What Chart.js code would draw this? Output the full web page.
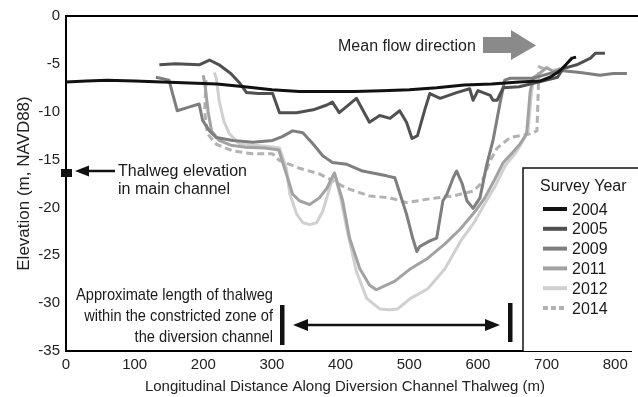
<!DOCTYPE html>
<html>
<head>
<meta charset="utf-8">
<script src="https://cdn.jsdelivr.net/npm/chart.js@4.4.1/dist/chart.umd.min.js"></script>
<style>
html,body{margin:0;padding:0;background:#fff;}
canvas{display:block;}
</style>
</head>
<body>
<canvas id="c" width="638" height="397"></canvas>
<script>
// ---- Data ----
const years = ['2004', '2005', '2009', '2011', '2012', '2014'];

const x2004 = [0, 30, 60, 100, 140, 180, 220, 260, 300, 340, 380, 420, 460, 500, 540, 580, 620, 660, 690, 705, 718, 728, 737, 743];
const y2004 = [-6.9, -6.8, -6.7, -6.8, -6.9, -7.0, -7.1, -7.4, -7.7, -7.9, -7.9, -7.9, -7.8, -7.7, -7.5, -7.2, -7.1, -6.9, -6.8, -6.4, -5.8, -5.1, -4.4, -4.3];

const x2005 = [136, 160, 194, 209, 223, 240, 253, 263, 280, 301, 311, 336, 360, 380, 388, 398, 413, 423, 442, 457, 472, 486, 496, 504, 512, 523, 530, 545, 569, 588, 593, 600, 618, 622, 628, 637, 660, 700, 716, 724, 744, 764, 771, 785];
const y2005 = [-5.1, -5.0, -5.1, -4.6, -5.1, -6.0, -7.0, -8.0, -8.1, -8.1, -10.1, -10.1, -9.8, -9.3, -9.0, -10.1, -9.2, -8.6, -11.1, -10.4, -10.7, -9.9, -11.1, -12.8, -12.5, -9.7, -8.1, -8.6, -8.0, -7.6, -8.8, -7.8, -8.3, -8.8, -8.8, -7.5, -7.4, -6.7, -6.4, -5.5, -5.1, -4.4, -3.9, -3.9];

const x2009 = [131, 150, 162, 180, 194, 199, 209, 219, 243, 272, 301, 315, 330, 345, 359, 374, 380, 388, 409, 432, 467, 479, 496, 505, 511, 515, 530, 540, 549, 555, 564, 569, 577, 584, 593, 603, 613, 622, 632, 639, 647, 680, 695, 720, 749, 778, 797, 817];
const y2009 = [-6.4, -6.7, -9.9, -9.5, -9.2, -10.9, -12.0, -12.7, -13.0, -13.2, -13.0, -12.6, -12.0, -12.2, -13.3, -14.6, -14.9, -15.3, -15.5, -16.2, -16.7, -16.9, -20.7, -23.2, -24.6, -24.1, -23.5, -23.2, -19.3, -18.6, -16.9, -16.2, -17.5, -19.3, -20.1, -19.0, -15.5, -13.0, -9.2, -6.7, -6.5, -6.5, -6.2, -5.7, -5.9, -6.2, -6.0, -6.0];

const x2011 = [200, 203, 207, 212, 223, 240, 260, 290, 310, 321, 330, 340, 355, 369, 380, 391, 403, 413, 428, 442, 452, 479, 502, 527, 552, 575, 596, 610, 625, 637, 650, 661, 671, 676, 680, 690, 700, 710, 720];
const y2011 = [-6.2, -7.5, -10.0, -12.0, -13.0, -13.5, -13.7, -13.8, -14.0, -16.5, -18.6, -19.3, -19.7, -19.0, -18.0, -16.4, -19.3, -23.2, -26.4, -28.1, -28.6, -27.7, -26.4, -25.3, -23.8, -22.2, -20.4, -19.0, -17.0, -15.3, -14.3, -13.4, -12.3, -8.0, -6.5, -6.0, -5.4, -5.8, -5.5];

const x2012 = [216, 219, 223, 230, 238, 253, 270, 292, 311, 316, 321, 326, 336, 345, 355, 365, 374, 384, 391, 400, 409, 423, 438, 457, 471, 483, 502, 527, 552, 575, 596, 610, 625, 640, 655, 666, 673, 678, 681, 690, 700, 708, 720];
const y2012 = [-5.9, -6.5, -8.8, -11.0, -12.3, -13.4, -13.5, -13.6, -13.8, -14.8, -15.9, -18.6, -20.7, -21.6, -21.8, -21.6, -20.4, -18.0, -16.4, -19.0, -22.2, -26.7, -29.5, -30.6, -30.7, -30.6, -29.5, -28.5, -26.4, -23.5, -21.4, -19.6, -17.8, -15.6, -14.3, -13.0, -12.0, -8.0, -6.4, -6.0, -5.4, -5.7, -5.5];

const x2014 = [204, 202, 206, 219, 243, 272, 301, 311, 340, 369, 380, 409, 442, 472, 496, 530, 564, 593, 605, 618, 628, 647, 676, 686, 689, 700];
const y2014 = [-6.7, -9.9, -12.3, -13.4, -14.1, -14.4, -14.4, -15.1, -15.9, -16.5, -16.9, -18.0, -18.8, -19.0, -19.5, -19.1, -18.8, -18.3, -17.5, -15.1, -13.8, -12.7, -12.3, -12.0, -5.3, -5.6];

// Thalweg elevation in main channel (marker at x = 0)
const markerX = [0];
const markerY = [-16.4];

const xTicks = [0, 100, 200, 300, 400, 500, 600, 700, 800];
const yTicks = [0, -5, -10, -15, -20, -25, -30, -35];

// ---- Styling ----
const seriesX = [x2004, x2005, x2009, x2011, x2012, x2014];
const seriesY = [y2004, y2005, y2009, y2011, y2012, y2014];
const colors = ['#111111', '#505050', '#7e7e7e', '#a2a2a2', '#d0d0d0', '#b2b2b2'];
const dashes = [[], [], [], [], [], [7, 4]];

function pts(xs, ys) { return xs.map((v, i) => ({ x: v, y: ys[i] })); }

const datasets = years.map((yr, i) => ({
  label: yr,
  data: pts(seriesX[i], seriesY[i]),
  borderColor: colors[i],
  backgroundColor: colors[i],
  borderWidth: 3,
  borderDash: dashes[i],
  borderCapStyle: 'butt',
  borderJoinStyle: 'round',
  pointRadius: 0,
  tension: 0,
  fill: false
}));

// marker image (black rectangle)
const mk = document.createElement('canvas');
mk.width = 11; mk.height = 8;
const mctx = mk.getContext('2d');
mctx.fillStyle = '#111';
mctx.fillRect(0, 0, 11, 8);

datasets.unshift({
  label: 'marker',
  data: pts(markerX, markerY),
  showLine: false,
  pointStyle: mk,
  pointRadius: 6,
  clip: false
});

const FONT = "'Liberation Sans', Arial, Helvetica, sans-serif";

const annot = {
  id: 'annot',
  afterDraw(chart) {
    const ctx = chart.ctx;
    const ca = chart.chartArea;
    ctx.save();
    // top frame line
    ctx.strokeStyle = '#000';
    ctx.lineWidth = 2;
    ctx.beginPath();
    ctx.moveTo(ca.left - 1, ca.top);
    ctx.lineTo(638, ca.top);
    ctx.stroke();

    // x-axis title
    ctx.fillStyle = '#222';
    ctx.font = '15px ' + FONT;
    ctx.textAlign = 'center';
    ctx.textBaseline = 'alphabetic';
    ctx.fillText('Longitudinal Distance Along Diversion Channel Thalweg (m)', 345, 391);

    // Mean flow direction
    ctx.font = '16px ' + FONT;
    ctx.textAlign = 'left';
    ctx.fillText('Mean flow direction', 338, 51);
    ctx.fillStyle = '#8a8a8a';
    ctx.beginPath();
    ctx.moveTo(483, 37); ctx.lineTo(511, 37); ctx.lineTo(511, 30);
    ctx.lineTo(536, 45.5); ctx.lineTo(511, 60); ctx.lineTo(511, 53);
    ctx.lineTo(483, 53); ctx.closePath();
    ctx.fill();

    // Thalweg elevation annotation
    ctx.fillStyle = '#1a1a1a';
    ctx.font = '16px ' + FONT;
    ctx.fillText('Thalweg elevation', 118, 176);
    ctx.fillText('in main channel', 118, 194);
    ctx.strokeStyle = '#111';
    ctx.lineWidth = 2.5;
    ctx.beginPath(); ctx.moveTo(115, 171); ctx.lineTo(84, 171); ctx.stroke();
    ctx.fillStyle = '#111';
    ctx.beginPath(); ctx.moveTo(75, 171); ctx.lineTo(89, 165.5); ctx.lineTo(89, 176.5); ctx.closePath(); ctx.fill();

    // Approximate length text (condensed)
    ctx.fillStyle = '#1a1a1a';
    ctx.font = "17px 'Liberation Sans Narrow', 'Liberation Sans', Arial, sans-serif";
    const l1 = 'Approximate length of thalweg';
    const w1 = ctx.measureText(l1).width;
    const sc = Math.min(1, 197 / w1);
    ctx.save();
    ctx.translate(273, 0);
    ctx.scale(sc, 1);
    ctx.textAlign = 'right';
    ctx.fillText(l1, 0, 300);
    ctx.fillText('within the constricted zone of', 0, 321);
    ctx.fillText('the diversion channel', 0, 342);
    ctx.restore();

    // bars and double arrow
    ctx.fillStyle = '#111';
    ctx.fillRect(280, 305, 4.5, 40);
    ctx.fillRect(508, 303, 4.5, 39);
    ctx.strokeStyle = '#111';
    ctx.lineWidth = 2.5;
    ctx.beginPath(); ctx.moveTo(303, 325); ctx.lineTo(490, 325); ctx.stroke();
    ctx.beginPath(); ctx.moveTo(293, 325); ctx.lineTo(308, 319); ctx.lineTo(308, 331); ctx.closePath(); ctx.fill();
    ctx.beginPath(); ctx.moveTo(500, 325); ctx.lineTo(485, 319); ctx.lineTo(485, 331); ctx.closePath(); ctx.fill();

    // Legend box
    const lx = 523, ly = 168, lb = ca.bottom;
    ctx.fillStyle = '#fff';
    ctx.fillRect(lx, ly, 640 - lx, lb - ly);
    ctx.strokeStyle = '#111';
    ctx.lineWidth = 1.5;
    ctx.beginPath();
    ctx.moveTo(lx, lb); ctx.lineTo(lx, ly); ctx.lineTo(640, ly);
    ctx.stroke();
    ctx.fillStyle = '#1a1a1a';
    ctx.font = '16px ' + FONT;
    ctx.textAlign = 'left';
    ctx.fillText('Survey Year', 540, 191);
    const dsets = chart.data.datasets.filter(d => d.label !== 'marker');
    dsets.forEach((d, i) => {
      const yy = 209 + i * 19.8;
      ctx.strokeStyle = d.borderColor;
      ctx.lineWidth = 4;
      ctx.setLineDash(d.borderDash && d.borderDash.length ? [5, 3] : []);
      ctx.beginPath(); ctx.moveTo(543, yy); ctx.lineTo(567, yy); ctx.stroke();
      ctx.setLineDash([]);
      ctx.fillStyle = '#1a1a1a';
      ctx.fillText(d.label, 572, yy + 5.5);
    });
    ctx.restore();
  }
};

new Chart(document.getElementById('c'), {
  type: 'line',
  data: { datasets },
  options: {
    responsive: false,
    animation: false,
    layout: { padding: { top: 16, right: 1, left: 0, bottom: 0 } },
    plugins: { legend: { display: false }, tooltip: { enabled: false } },
    scales: {
      x: {
        type: 'linear',
        min: 0,
        max: 823,
        grid: { display: false, drawTicks: false },
        border: { display: true, color: '#000', width: 2 },
        ticks: { color: '#222', font: { size: 15, family: FONT }, padding: 5, maxRotation: 0, autoSkip: false, includeBounds: false },
        afterBuildTicks: s => { s.ticks = xTicks.map(v => ({ value: v })); },
        afterFit: s => { s.height = 46; s.paddingLeft = 0; s.paddingRight = 0; }
      },
      y: {
        type: 'linear',
        min: -35,
        max: 0,
        grid: { display: false, drawTicks: false },
        border: { display: true, color: '#000', width: 2 },
        ticks: { color: '#222', font: { size: 15, family: FONT }, padding: 6 },
        afterBuildTicks: s => { s.ticks = yTicks.map(v => ({ value: v })); },
        title: { display: true, text: 'Elevation (m, NAVD88)', color: '#222', font: { size: 17, family: FONT }, padding: { top: 14, bottom: 0 } },
        afterFit: s => { s.width = 66; }
      }
    }
  },
  plugins: [annot]
});
</script>
</body>
</html>
